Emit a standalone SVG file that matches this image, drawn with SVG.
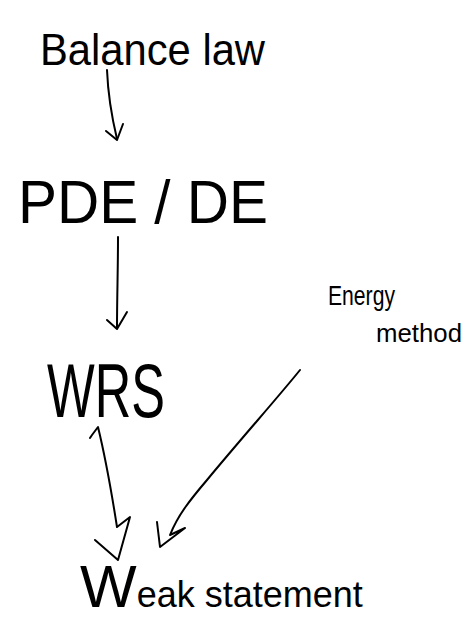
<svg xmlns="http://www.w3.org/2000/svg" width="468" height="622" viewBox="0 0 468 622">
  <style>
    .lbl { font-family: "Liberation Sans", "DejaVu Sans", sans-serif; fill: #000; }
    .ink { fill: none; stroke: #000; stroke-width: 2; stroke-linecap: round; stroke-linejoin: round; }
  </style>
  <rect width="468" height="622" fill="#fff"/>

  <g id="balance-law">
    <text class="lbl" x="40" y="65" font-size="44" textLength="225" lengthAdjust="spacingAndGlyphs">Balance law</text>
  </g>

  <g id="pde-de">
    <text class="lbl" x="18" y="223" font-size="62" textLength="250" lengthAdjust="spacingAndGlyphs">PDE / DE</text>
  </g>

  <g id="energy-method">
    <text class="lbl" x="328" y="305" font-size="27" textLength="67" lengthAdjust="spacingAndGlyphs">Energy</text>
    <text class="lbl" x="376" y="342" font-size="26" textLength="86" lengthAdjust="spacingAndGlyphs">method</text>
  </g>

  <g id="wrs">
    <text class="lbl" x="47" y="417" font-size="76" textLength="118" lengthAdjust="spacingAndGlyphs">WRS</text>
  </g>

  <g id="weak-statement">
    <text class="lbl" x="80" y="607"><tspan font-size="60">W</tspan><tspan font-size="36">eak statement</tspan></text>
  </g>

  <g id="connectors">
    <!-- Balance law to PDE / DE -->
    <path class="ink" d="M107 70 C108 95 112 118 117 139"/>
    <path class="ink" d="M106 131 L117 140 L123 124"/>
    <!-- PDE / DE to WRS -->
    <path class="ink" d="M118 237 C118 268 117 300 117 328"/>
    <path class="ink" d="M107 320 L117 329 L127 312"/>
    <!-- WRS to Weak statement -->
    <path class="ink" d="M90 438 L92 435 L98 427 C106 460 112 495 117 527 L130 517 L118 560 L95 540"/>
    <!-- Energy method to Weak statement -->
    <path class="ink" d="M300 370 C280 395 240 440 207 480 C190 500 178 515 170 535 L185 528 L160 547 L157 522"/>
  </g>
</svg>
